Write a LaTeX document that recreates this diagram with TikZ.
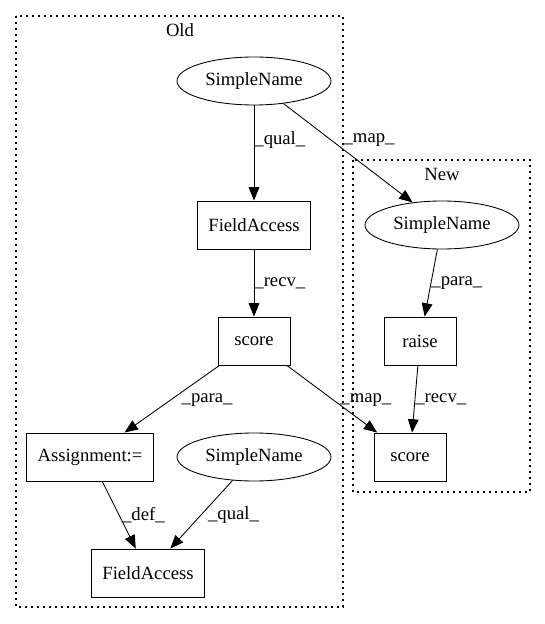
\documentclass[tikz,border=0pt]{standalone}
\usepackage{fontspec}
\setmainfont{Liberation Serif}
\usetikzlibrary{arrows.meta,shapes.geometric}

\begin{document}
\begin{tikzpicture}[x=0.75pt, y=-0.75pt,
    every node/.style={font=\fontsize{14}{16}\selectfont},
    box/.style={draw, rectangle, line width=0.65pt, minimum width=54pt, minimum height=36pt, inner xsep=8pt},
    oval/.style={draw, ellipse, line width=0.65pt, minimum width=115.5pt, minimum height=36pt, inner sep=0pt},
    cluster/.style={draw, line width=1.1pt, dash pattern=on 1.3pt off 3.2pt},
    arr/.style={-{Triangle[length=10pt,width=8pt]}, line width=0.65pt},
    lbl/.style={anchor=west, inner sep=0pt}]
        \useasboundingbox (0,0) rectangle (544,624);
        % clusters
        \draw[cluster] (16,16) rectangle (343,607);
        \node (old) at (180,30) {Old};
        \draw[cluster] (353,160) rectangle (530,492);
        \node (new) at (442,174) {New};
        % old side
        \node[oval] (sn1) at (254,81) {SimpleName};
        \node[box] (fa1) at (254,225) {FieldAccess};
        \node[box] (sc1) at (254,341) {score};
        \node[box] (asg) at (90,457) {Assignment:=};
        \node[oval] (sn3) at (254,457) {SimpleName};
        \node[box] (fa2) at (148,573) {FieldAccess};
        % new side
        \node[oval] (sn2) at (442,225) {SimpleName};
        \node[box] (rs) at (420,341) {raise};
        \node[box] (sc2) at (410,457) {score};
        % edges
        \draw[arr] (sn1) -- node[lbl, pos=0.36] {\_qual\_} (fa1);
        \draw[arr] (sn1) -- node[lbl, pos=0.37, xshift=9pt] {\_map\_} (sn2);
        \draw[arr] (fa1) -- node[lbl, pos=0.5] {\_recv\_} (sc1);
        \draw[arr] (sn2) -- node[lbl, pos=0.5] {\_para\_} (rs);
        \draw[arr] (rs) -- node[lbl, pos=0.51] {\_recv\_} (sc2);
        \draw[arr] (sc1) -- node[lbl, pos=0.515, xshift=8pt] {\_para\_} (asg);
        \draw[arr] (sc1) -- node[lbl, pos=0.515, xshift=5pt] {\_map\_} (sc2);
        \draw[arr] (asg) -- node[lbl, pos=0.5, xshift=2pt] {\_def\_} (fa2);
        \draw[arr] (sn3) -- node[lbl, pos=0.507, xshift=5pt] {\_qual\_} (fa2);
\end{tikzpicture}
\end{document}
